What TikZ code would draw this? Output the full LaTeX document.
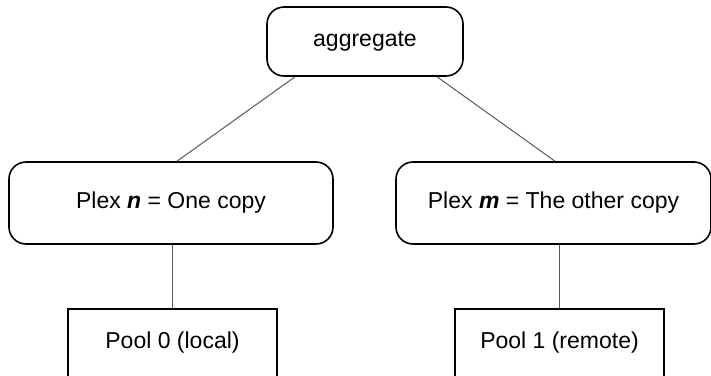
\documentclass[tikz,border=0pt]{standalone}
\usepackage{fontspec}
\setmainfont{Liberation Sans}
\usetikzlibrary{calc}
\tikzset{
  label font/.style={font=\fontsize{23}{27}\selectfont},
  roundbox/.style={draw, line width=1.6pt, rounded corners=17pt, label font, align=center, inner sep=0pt},
  squarebox/.style={draw, line width=1.6pt, label font, align=center, inner sep=0pt},
  link/.style={draw=black!65, line width=1pt}
}
\begin{document}
\begin{tikzpicture}[x=1pt,y=-1pt]
  \useasboundingbox (0,0) rectangle (711,375);
  \clip (0,0) rectangle (711,375);

  % tree of storage objects
  \node[roundbox, minimum width=196pt, minimum height=69pt] (aggr) at (365,41.5) {aggregate};
  \node[roundbox, minimum width=324pt, minimum height=82pt] (plexn) at (171,203)
    {Plex \textbf{\textit{n}} = One copy};
  \node[roundbox, minimum width=315pt, minimum height=82pt] (plexm) at (553.5,203)
    {Plex \textbf{\textit{m}} = The other copy};
  \node[squarebox, minimum width=209pt, minimum height=68pt] (pool0) at (172.5,343) {Pool 0 (local)};
  \node[squarebox, minimum width=209pt, minimum height=68pt] (pool1) at (559.5,343) {Pool 1 (remote)};

  % connectors
  \draw[link] ($(aggr.south)+(-70,0)$) -- ($(plexn.north)+(6,0)$);
  \draw[link] ($(aggr.south)+(72,0)$) -- ($(plexm.north)+(1.5,0)$);
  \draw[link] (pool0.north) -- (pool0.north |- plexn.south);
  \draw[link] (pool1.north) -- (pool1.north |- plexm.south);
\end{tikzpicture}
\end{document}
